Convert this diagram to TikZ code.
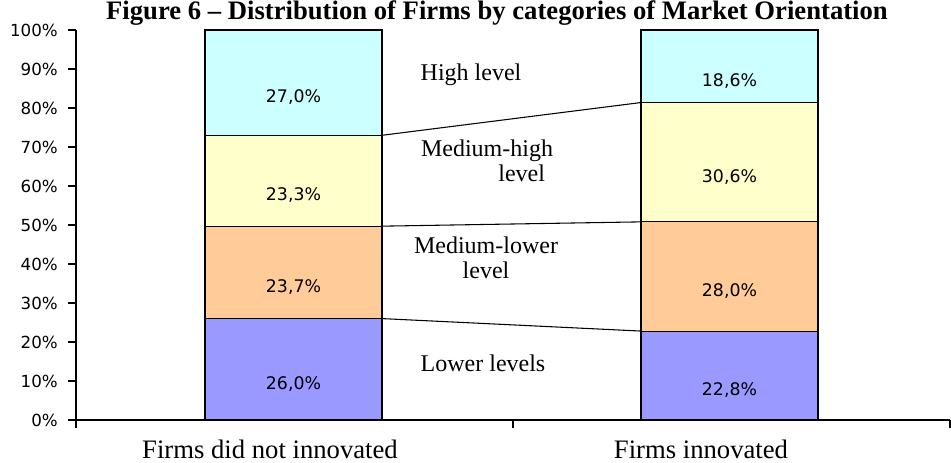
\documentclass[tikz,border=0pt]{standalone}
\usepackage{fontspec}
\setmainfont{Liberation Serif}
\newfontfamily\pixfont{DejaVu Sans}
\usetikzlibrary{positioning}

\definecolor{lowCol}{HTML}{9999FF}
\definecolor{mlCol}{HTML}{FFCC99}
\definecolor{mhCol}{HTML}{FFFFCC}
\definecolor{hiCol}{HTML}{CCFFFF}

\tikzset{
  seg/.style={rectangle, draw=black, line width=0.8pt, minimum width=132.75pt, inner sep=0pt, outer sep=0pt},
  val/.style={font=\pixfont\fontsize{13}{14}\selectfont},
  tick/.style={font=\pixfont\fontsize{12.5}{13}\selectfont, anchor=east, inner sep=0pt},
  catname/.style={font=\fontsize{20}{22}\selectfont},
  levname/.style={font=\fontsize{18}{19}\selectfont, align=center},
}

\begin{document}
\begin{tikzpicture}[x=0.75pt, y=0.75pt]
        \useasboundingbox (0,0) rectangle (951,463);

        % Title
        \node[font=\bfseries\fontsize{20}{22}\selectfont] (title) at (497,450) {Figure 6 -- Distribution of Firms by categories of Market Orientation};

        % Bar of firms that did not innovate
        \foreach \n/\lo/\h/\col/\val in {llow/0/26.0/lowCol/{26,0\%}, lml/26.0/23.7/mlCol/{23,7\%}, lmh/49.7/23.3/mhCol/{23,3\%}, lhi/73.0/27.0/hiCol/{27,0\%}} {
            \pgfmathsetmacro\segh{\h*2.925}
            \node[seg, fill=\col, minimum height=\segh pt, anchor=south] (\n) at (293.5, 43+\lo*3.9) {};
            \node[val, yshift=-11pt] (\n-v) at (\n.center) {\val};
        }

        % Bar of firms that innovated
        \foreach \n/\lo/\h/\col/\val in {rlow/0/22.8/lowCol/{22,8\%}, rml/22.8/28.0/mlCol/{28,0\%}, rmh/50.8/30.6/mhCol/{30,6\%}, rhi/81.4/18.6/hiCol/{18,6\%}} {
            \pgfmathsetmacro\segh{\h*2.925}
            \node[seg, fill=\col, minimum height=\segh pt, anchor=south] (\n) at (729.5, 43+\lo*3.9) {};
            \node[val, yshift=-11pt] (\n-v) at (\n.center) {\val};
        }

        % Series lines between the bars
        \draw[line width=0.8pt] (llow.north east) -- (rlow.north west);
        \draw[line width=0.8pt] (lml.north east) -- (rml.north west);
        \draw[line width=0.8pt] (lmh.north east) -- (rmh.north west);

        % Axes
        \draw[line width=0.9pt] (76,433) -- (76,43) -- (950,43);
        \foreach \p in {0,10,...,100} {
            \draw[line width=0.9pt] (68, 43+\p*3.9) -- (76, 43+\p*3.9);
            \node[tick] (tick\p) at (58, 43+\p*3.9) {\p\%};
        }
        \foreach \x in {76,513,950} {
            \draw[line width=0.9pt] (\x,43) -- (\x,35);
        }

        % Category names
        \node[catname] (notinn) at (270,14) {Firms did not innovated};
        \node[catname] (inn) at (701,14) {Firms innovated};

        % Level names
        \node[levname] (high) at (471,388) {High level};
        \node[levname, align=right] (medhigh) at (487,302) {Medium-high\\level\hspace*{6pt}};
        \node[levname] (medlow) at (486,205) {Medium-lower\\level};
        \node[levname] (lower) at (483,100) {Lower levels};
\end{tikzpicture}
\end{document}
